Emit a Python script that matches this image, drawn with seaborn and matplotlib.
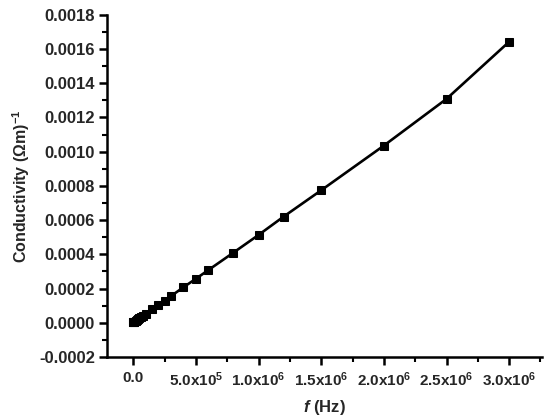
import matplotlib
matplotlib.use("Agg")
import matplotlib.pyplot as plt
from matplotlib.ticker import MultipleLocator, FixedLocator
import pandas as pd
import seaborn as sns

# frequency (Hz) and conductivity (Ohm m)^-1
freq = [1e2, 1e3, 5e3, 1e4, 2e4, 3e4, 4e4, 5e4, 6e4, 8e4, 1e5, 1.5e5, 2e5, 2.5e5,
        3e5, 4e5, 5e5, 6e5, 8e5, 1e6, 1.2e6, 1.5e6, 2e6, 2.5e6, 3e6]
cond = [0.0000020, 0.0000025, 0.0000045, 0.0000070, 0.000012, 0.000017, 0.000022,
        0.000027, 0.000032, 0.000042, 0.000053, 0.000079, 0.000103, 0.000129,
        0.000155, 0.000207, 0.000257, 0.000308, 0.00041, 0.000513, 0.00062,
        0.000774, 0.001035, 0.001308, 0.001642]
xticks = [0, 5e5, 1e6, 1.5e6, 2e6, 2.5e6, 3e6]
xticklabels = ['0.0', r'5.0x10$^{5}$', r'1.0x10$^{6}$', r'1.5x10$^{6}$',
               r'2.0x10$^{6}$', r'2.5x10$^{6}$', r'3.0x10$^{6}$']

df = pd.DataFrame({'f': freq, 'cond': cond})

sns.set_style('ticks')
plt.rcParams['font.family'] = ['Liberation Sans', 'DejaVu Sans']
plt.rcParams['font.weight'] = 'bold'
plt.rcParams['mathtext.fontset'] = 'custom'
plt.rcParams['mathtext.rm'] = 'Liberation Sans:bold'
plt.rcParams['mathtext.bf'] = 'Liberation Sans:bold'
plt.rcParams['mathtext.it'] = 'Liberation Sans:italic:bold'
plt.rcParams['mathtext.default'] = 'bf'

fig = plt.figure(figsize=(5.5, 4.2), dpi=100)
ax = fig.add_axes([0.195, 0.15, 0.79, 0.815])

sns.lineplot(data=df, x='f', y='cond', ax=ax, color='black', linewidth=1.9,
             marker='s', markersize=5.5, markeredgecolor='black')

ax.set_xlim(-2.07e5, 3.26e6)
ax.set_ylim(-0.0002, 0.0018)
ax.xaxis.set_major_locator(FixedLocator(xticks))
ax.set_xticklabels(xticklabels)
ax.xaxis.set_minor_locator(MultipleLocator(2.5e5))
ax.yaxis.set_major_locator(MultipleLocator(0.0002))
ax.yaxis.set_minor_locator(MultipleLocator(0.0001))
ax.yaxis.set_major_formatter(matplotlib.ticker.FormatStrFormatter('%.4f'))

ax.tick_params(which='major', direction='out', length=6, width=1.8, color='black')
ax.tick_params(axis='x', which='major', labelsize=11, pad=4)
ax.tick_params(axis='y', which='major', labelsize=12, pad=3)
ax.tick_params(which='minor', direction='out', length=3.5, width=1.5, color='black')
for lab in ax.get_xticklabels() + ax.get_yticklabels():
    lab.set_fontweight('bold')

for s in ['top', 'right']:
    ax.spines[s].set_visible(False)
for s in ['left', 'bottom']:
    ax.spines[s].set_linewidth(1.8)
    ax.spines[s].set_color('black')

ax.set_xlabel(r'$\mathit{f}$ (Hz)', fontsize=12, fontweight='bold', labelpad=6)
ax.set_ylabel(r'Conductivity ($\Omega$m)$^{-1}$', fontsize=11.5, fontweight='bold',
              labelpad=5)

fig.savefig('out.png', dpi=100)
